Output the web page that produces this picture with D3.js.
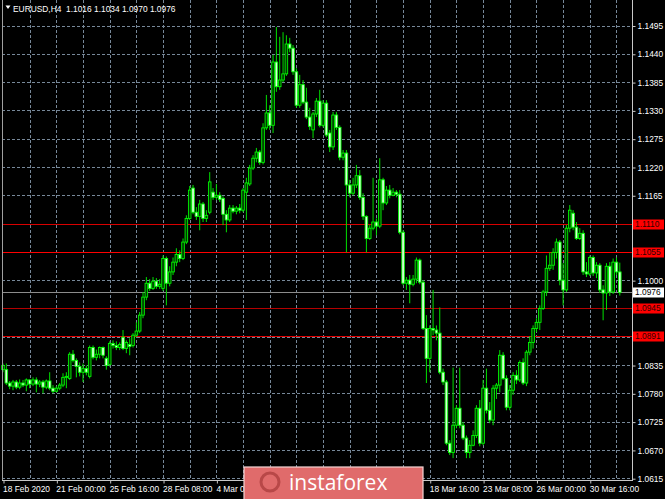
<!DOCTYPE html>
<html><head><meta charset="utf-8">
<script src="https://cdn.jsdelivr.net/npm/d3@7"></script>
<style>html,body{margin:0;padding:0;background:#000;overflow:hidden}svg{display:block}</style>
</head><body><svg id="c" width="665" height="499"></svg>
<script>
const symbolTitle = "EURUSD,H4";
const titleValues = ["1.1016", "1.1034", "1.0970", "1.0976"];
const dateLabels = ["18 Feb 2020","21 Feb 00:00","25 Feb 16:00","28 Feb 08:00","4 Mar 00:00","6 Mar 16:00","11 Mar 08:00","16 Mar 00:00","18 Mar 16:00","23 Mar 08:00","26 Mar 00:00","30 Mar 16:00"];
const priceTicks = [1.1495,1.1440,1.1385,1.1330,1.1275,1.1220,1.1165,1.1110,1.1055,1.1000,1.0945,1.0890,1.0835,1.0780,1.0725,1.0670,1.0615];
const levels = [1.1110, 1.1055, 1.0945, 1.0891];
const levelColors = ["#d80000", "#ff0000", "#b40000", "#e00000"];
const lastPrice = 1.0976;

const open = [
1.0826,1.0826,1.0800,1.0794,1.0802,1.0792,1.0800,1.0796,1.0806,1.0798,
1.0806,1.0798,1.0802,1.0792,1.0804,1.0790,1.0784,1.0790,1.0796,1.0811,
1.0809,1.0856,1.0844,1.0832,1.0821,1.0828,1.0813,1.0869,1.0850,1.0856,
1.0869,1.0848,1.0836,1.0877,1.0873,1.0869,1.0889,1.0867,1.0875,1.0873,
1.0893,1.0901,1.0932,1.0967,1.0994,1.0984,1.0998,1.0988,1.0984,1.1042,
1.0994,1.1016,1.1035,1.1050,1.1042,1.1074,1.1120,1.1179,1.1132,1.1124,
1.1148,1.1120,1.1132,1.1171,1.1161,1.1165,1.1159,1.1128,1.1117,1.1140,
1.1134,1.1140,1.1136,1.1171,1.1187,1.1218,1.1237,1.1249,1.1229,1.1296,
1.1325,1.1301,1.1424,1.1376,1.1389,1.1401,1.1459,1.1451,1.1405,1.1340,
1.1380,1.1346,1.1317,1.1292,1.1323,1.1348,1.1301,1.1344,1.1286,1.1259,
1.1321,1.1297,1.1239,1.1247,1.1185,1.1169,1.1185,1.1203,1.1161,1.1124,
1.1081,1.1101,1.1113,1.1105,1.1195,1.1150,1.1175,1.1165,1.1171,1.1167,
1.1093,1.0994,1.1000,1.0992,1.1002,1.1039,1.0996,1.0906,1.0848,1.0906,
1.0903,1.0897,1.0821,1.0802,1.0683,1.0665,1.0718,1.0751,1.0718,1.0693,
1.0665,1.0679,1.0698,1.0751,1.0683,1.0790,1.0747,1.0728,1.0790,1.0796,
1.0854,1.0809,1.0753,1.0786,1.0815,1.0806,1.0840,1.0800,1.0860,1.0879,
1.0906,1.0918,1.0945,1.0977,1.1023,1.1029,1.1054,1.1074,1.1000,1.0981,
1.1101,1.1130,1.1103,1.1081,1.1091,1.1016,1.1012,1.1044,1.1014,1.1029,
1.0981,1.0975,1.1027,1.0977,1.1035,1.1016];
const high = [
1.0838,1.0838,1.0804,1.0806,1.0806,1.0807,1.0806,1.0809,1.0807,1.0811,
1.0811,1.0806,1.0806,1.0807,1.0821,1.0796,1.0794,1.0800,1.0819,1.0821,
1.0860,1.0864,1.0848,1.0840,1.0838,1.0834,1.0873,1.0873,1.0865,1.0871,
1.0871,1.0852,1.0881,1.0883,1.0881,1.0879,1.0903,1.0883,1.0887,1.0897,
1.0918,1.0938,1.0977,1.1006,1.1002,1.1006,1.1004,1.1002,1.1048,1.1046,
1.1027,1.1044,1.1062,1.1058,1.1081,1.1126,1.1183,1.1185,1.1142,1.1156,
1.1152,1.1136,1.1210,1.1179,1.1187,1.1171,1.1163,1.1136,1.1146,1.1146,
1.1144,1.1148,1.1179,1.1199,1.1224,1.1243,1.1257,1.1253,1.1305,1.1360,
1.1340,1.1438,1.1492,1.1473,1.1482,1.1476,1.1471,1.1457,1.1412,1.1399,
1.1389,1.1374,1.1335,1.1327,1.1354,1.1370,1.1350,1.1350,1.1292,1.1327,
1.1327,1.1301,1.1253,1.1253,1.1195,1.1199,1.1224,1.1214,1.1169,1.1126,
1.1107,1.1199,1.1120,1.1237,1.1199,1.1183,1.1185,1.1179,1.1175,1.1175,
1.1097,1.1006,1.1010,1.1010,1.1044,1.1042,1.1000,1.0932,1.0912,1.0981,
1.0912,1.0947,1.0828,1.0806,1.0689,1.0830,1.0757,1.0830,1.0724,1.0698,
1.0689,1.0708,1.0757,1.0767,1.0806,1.0828,1.0763,1.0796,1.0800,1.0864,
1.0860,1.0815,1.0796,1.0821,1.0825,1.0844,1.0848,1.0864,1.0891,1.0912,
1.0926,1.0951,1.0981,1.1048,1.1054,1.1062,1.1081,1.1078,1.1033,1.1107,
1.1146,1.1136,1.1113,1.1101,1.1097,1.1035,1.1048,1.1048,1.1035,1.1033,
1.0990,1.1033,1.1035,1.1042,1.1044,1.1034];
const low = [
1.0821,1.0796,1.0788,1.0786,1.0788,1.0788,1.0792,1.0784,1.0790,1.0794,
1.0782,1.0792,1.0780,1.0788,1.0786,1.0780,1.0782,1.0786,1.0792,1.0790,
1.0806,1.0840,1.0811,1.0813,1.0802,1.0815,1.0809,1.0846,1.0844,1.0848,
1.0848,1.0826,1.0832,1.0867,1.0864,1.0864,1.0864,1.0858,1.0854,1.0869,
1.0889,1.0897,1.0926,1.0961,1.0979,1.0981,1.0983,1.0983,1.0979,1.0951,
1.0988,1.1010,1.1027,1.1035,1.1039,1.1070,1.1117,1.1128,1.1117,1.1097,
1.1113,1.1113,1.1128,1.1156,1.1156,1.1152,1.1107,1.1093,1.1113,1.1130,
1.1128,1.1130,1.1132,1.1117,1.1183,1.1214,1.1229,1.1224,1.1225,1.1292,
1.1292,1.1286,1.1366,1.1370,1.1385,1.1397,1.1443,1.1399,1.1335,1.1335,
1.1342,1.1313,1.1292,1.1276,1.1317,1.1297,1.1297,1.1278,1.1249,1.1253,
1.1292,1.1233,1.1233,1.1054,1.1161,1.1165,1.1179,1.1156,1.1117,1.1054,
1.1078,1.1097,1.1087,1.1101,1.1136,1.1146,1.1159,1.1163,1.1161,1.1089,
1.0990,1.0981,1.0955,1.0988,1.0994,1.0992,1.0903,1.0800,1.0821,1.0893,
1.0883,1.0817,1.0796,1.0679,1.0660,1.0654,1.0712,1.0712,1.0689,1.0654,
1.0654,1.0677,1.0693,1.0677,1.0679,1.0741,1.0722,1.0718,1.0769,1.0782,
1.0806,1.0747,1.0747,1.0777,1.0798,1.0802,1.0796,1.0794,1.0854,1.0867,
1.0899,1.0903,1.0942,1.0969,1.1018,1.1020,1.1042,1.0990,1.0951,1.0977,
1.1093,1.1097,1.1078,1.1078,1.1010,1.1006,1.1008,1.1008,1.1004,1.0975,
1.0922,1.0942,1.0969,1.0973,1.1010,1.0970];
const close = [
1.0834,1.0800,1.0794,1.0802,1.0792,1.0800,1.0796,1.0806,1.0798,1.0806,
1.0798,1.0802,1.0792,1.0804,1.0790,1.0784,1.0790,1.0796,1.0811,1.0813,
1.0856,1.0844,1.0832,1.0821,1.0828,1.0821,1.0869,1.0850,1.0856,1.0869,
1.0854,1.0834,1.0877,1.0873,1.0869,1.0875,1.0867,1.0879,1.0871,1.0893,
1.0901,1.0932,1.0967,1.0994,1.0984,1.0998,1.0988,1.0992,1.1042,1.0994,
1.1016,1.1035,1.1050,1.1042,1.1074,1.1120,1.1175,1.1132,1.1124,1.1148,
1.1120,1.1126,1.1191,1.1161,1.1165,1.1157,1.1128,1.1117,1.1140,1.1134,
1.1140,1.1136,1.1175,1.1189,1.1218,1.1237,1.1249,1.1229,1.1296,1.1325,
1.1301,1.1424,1.1376,1.1389,1.1401,1.1459,1.1451,1.1405,1.1340,1.1380,
1.1346,1.1317,1.1299,1.1323,1.1348,1.1301,1.1344,1.1282,1.1259,1.1321,
1.1297,1.1239,1.1247,1.1185,1.1169,1.1185,1.1203,1.1161,1.1124,1.1081,
1.1101,1.1113,1.1105,1.1195,1.1150,1.1175,1.1165,1.1171,1.1167,1.1093,
1.0994,1.1000,1.0992,1.1002,1.1039,1.0996,1.0906,1.0848,1.0906,1.0903,
1.0897,1.0821,1.0802,1.0683,1.0665,1.0718,1.0751,1.0718,1.0693,1.0665,
1.0679,1.0698,1.0751,1.0683,1.0790,1.0747,1.0728,1.0790,1.0796,1.0854,
1.0809,1.0753,1.0786,1.0815,1.0806,1.0840,1.0800,1.0860,1.0879,1.0906,
1.0918,1.0945,1.0977,1.1023,1.1029,1.1054,1.1074,1.1000,1.0981,1.1101,
1.1136,1.1103,1.1081,1.1091,1.1016,1.1012,1.1044,1.1014,1.1029,1.0981,
1.0975,1.1027,1.0977,1.1035,1.1016,1.0976];

const W = 665, H = 499;
const plotL = 2, plotR = 632, plotT = 0, plotB = 480;
const n = close.length;
const svg = d3.select("#c");
svg.append("rect").attr("width", W).attr("height", H).attr("fill", "#000");

const x = d3.scaleLinear().domain([0, n - 1]).range([3, 3 + (n - 1) * 3.334]);
const y = d3.scaleLinear().domain([1.0615, 1.1495]).range([478.2, 25.5]);

const FONT = "Liberation Sans, Arial, sans-serif";
const FS = 8.4;
const gridColor = "#778899";
const fmt = d3.format(".4f");

// watermark box geometry (used to hide time labels under it)
const wmX = 244, wmY = 467, wmW = 179;

// horizontal grid
svg.append("g").selectAll("line").data(priceTicks).join("line")
  .attr("x1", plotL).attr("x2", plotR)
  .attr("y1", d => Math.round(y(d)) + 0.5).attr("y2", d => Math.round(y(d)) + 0.5)
  .attr("stroke", gridColor).attr("stroke-width", 1).attr("stroke-dasharray", "3,2");

// vertical grid every 8 bars
const vgrid = d3.range(8, n, 8);
svg.append("g").selectAll("line").data(vgrid).join("line")
  .attr("x1", d => Math.round(x(d)) + 0.5).attr("x2", d => Math.round(x(d)) + 0.5)
  .attr("y1", plotT).attr("y2", plotB)
  .attr("stroke", gridColor).attr("stroke-width", 1).attr("stroke-dasharray", "3,2");

// horizontal levels
levels.forEach((lv, i) => {
  svg.append("line").attr("x1", plotL).attr("x2", plotR)
    .attr("y1", Math.round(y(lv)) + 0.5).attr("y2", Math.round(y(lv)) + 0.5)
    .attr("stroke", levelColors[i]).attr("stroke-width", 1);
});
// bid line
svg.append("line").attr("x1", plotL).attr("x2", plotR)
  .attr("y1", Math.round(y(lastPrice)) + 0.5).attr("y2", Math.round(y(lastPrice)) + 0.5)
  .attr("stroke", "#8c8c8c").attr("stroke-width", 1);

// candles
const bars = d3.range(n);
const cg = svg.append("g");
cg.selectAll("line.wick").data(bars).join("line").attr("class", "wick")
  .attr("x1", i => x(i)).attr("x2", i => x(i))
  .attr("y1", i => y(high[i])).attr("y2", i => y(low[i]))
  .attr("stroke", "#00e000").attr("stroke-width", 1);
cg.selectAll("rect.body").data(bars).join("rect").attr("class", "body")
  .attr("x", i => x(i) - 1.3).attr("width", 2.6)
  .attr("y", i => y(Math.max(open[i], close[i])))
  .attr("height", i => Math.max(0.8, Math.abs(y(open[i]) - y(close[i]))))
  .attr("fill", i => close[i] >= open[i] ? "#003a00" : "#d8ffd8")
  .attr("stroke", "#00ff00").attr("stroke-width", 0.85);

// frame
svg.append("line").attr("x1", plotL + 0.5).attr("x2", plotL + 0.5).attr("y1", plotT).attr("y2", plotB).attr("stroke", "#a0a0a0");
svg.append("line").attr("x1", plotR + 0.5).attr("x2", plotR + 0.5).attr("y1", plotT).attr("y2", plotB + 1).attr("stroke", "#c8c8c8");
svg.append("line").attr("x1", plotL).attr("x2", plotR + 1).attr("y1", plotB + 0.5).attr("y2", plotB + 0.5).attr("stroke", "#c8c8c8");

// right price axis (labels hidden where a level box sits on top)
const covered = d => levels.some(lv => Math.abs(y(lv) - y(d)) < 6) || Math.abs(y(lastPrice) - y(d)) < 6;
const yAxis = d3.axisRight(y).tickValues(priceTicks).tickSize(3).tickPadding(2)
  .tickFormat(d => covered(d) ? "" : fmt(d));
const ya = svg.append("g").attr("transform", `translate(${plotR + 0.5},0.5)`).call(yAxis);
ya.select(".domain").remove();
ya.selectAll(".tick line").attr("stroke", "#c8c8c8");
ya.selectAll(".tick text").attr("fill", "#ffffff").attr("font-family", FONT).attr("font-size", FS);

// level labels
levels.forEach((lv, i) => {
  const yy = Math.round(y(lv));
  svg.append("rect").attr("x", 633).attr("y", yy - 4.5).attr("width", 31).attr("height", 10).attr("fill", "#ff0000");
  svg.append("text").attr("x", 635).attr("y", yy + 3.3).attr("fill", "#300000")
    .attr("font-family", FONT).attr("font-size", FS).text(fmt(lv));
});
{
  const yy = Math.round(y(lastPrice));
  svg.append("rect").attr("x", 633).attr("y", yy - 4.5).attr("width", 31).attr("height", 10).attr("fill", "#ffffff");
  svg.append("text").attr("x", 635).attr("y", yy + 3.3).attr("fill", "#000")
    .attr("font-family", FONT).attr("font-size", FS).text(fmt(lastPrice));
}

// bottom time axis; labels lying under the watermark are clipped away
svg.append("clipPath").attr("id", "tclip").append("rect").attr("x", 0).attr("y", 0).attr("width", wmX).attr("height", H);
const labelIdx = dateLabels.map((d, i) => i * 16);
const xAxis = d3.axisBottom(x).tickValues(labelIdx).tickSize(3).tickPadding(3).tickFormat((d, i) => dateLabels[i]);
const xa = svg.append("g").attr("transform", `translate(0.5,${plotB + 0.5})`).call(xAxis);
xa.select(".domain").remove();
xa.selectAll(".tick line").attr("stroke", "#c8c8c8");
xa.selectAll(".tick text").attr("fill", "#ffffff").attr("font-family", FONT).attr("font-size", FS)
  .attr("text-anchor", "start").attr("dx", -1);
xa.selectAll(".tick").each(function(d) {
  const px = x(d);
  const t = d3.select(this).select("text");
  if (px >= wmX - 2 && px < wmX + wmW) t.remove();
  else if (px < wmX && px + 45 > wmX) { t.attr("clip-path", null); d3.select(this).attr("clip-path", null); }
});
// partially hidden label: clip with an absolute clip region
xa.selectAll(".tick").filter(d => x(d) < wmX && x(d) + 45 > wmX).each(function(d) {
  const g = d3.select(this);
  svg.append("clipPath").attr("id", "pclip").append("rect")
    .attr("x", -10).attr("y", -5).attr("width", wmX - x(d) + 9.5).attr("height", 30);
  g.select("text").attr("clip-path", "url(#pclip)");
});

// title
svg.append("path").attr("d", "M5.5,5.5 L10.5,5.5 L8,9 Z").attr("fill", "#ffffff");
svg.append("text").attr("x", 13).attr("y", 11.5).attr("fill", "#ffffff").attr("font-family", FONT).attr("font-size", FS)
  .attr("xml:space", "preserve").text(symbolTitle + "  " + titleValues.join(" "));

// watermark
const wm = svg.append("g");
wm.append("rect").attr("x", wmX).attr("y", wmY).attr("width", wmW).attr("height", 40).attr("fill", "#e06b6b").attr("stroke", "#f4d4d4").attr("stroke-width", 1.2);
wm.append("circle").attr("cx", 270).attr("cy", 482).attr("r", 9).attr("fill", "none").attr("stroke", "#b84848").attr("stroke-width", 3);
wm.append("text").attr("x", 289).attr("y", 490).attr("fill", "#ffffff").attr("font-family", "Open Sans, sans-serif").attr("font-size", 21).text("instaforex");
</script>
</body></html>
